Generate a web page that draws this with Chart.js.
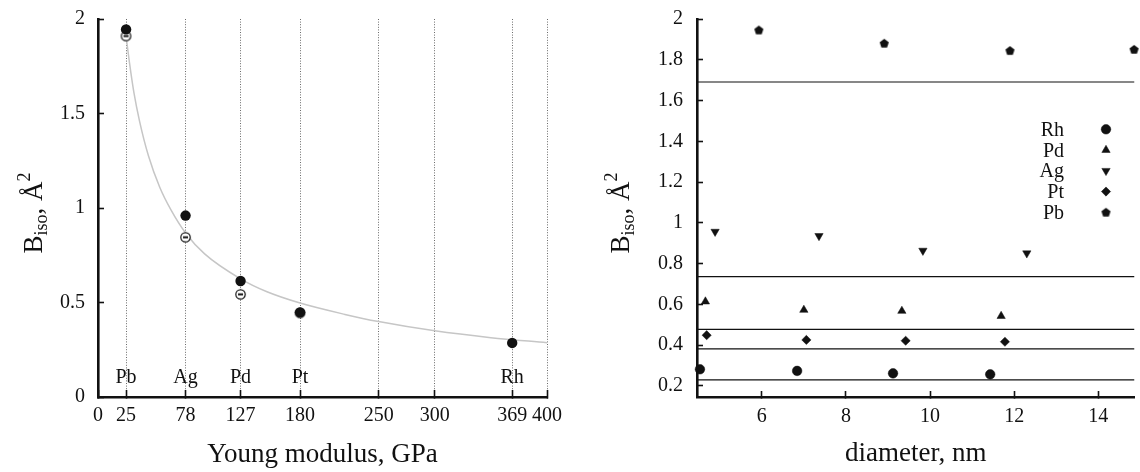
<!DOCTYPE html>
<html><head><meta charset="utf-8">
<script src="https://cdn.jsdelivr.net/npm/chart.js@4.4.0/dist/chart.umd.min.js"></script>
<style>
html,body{margin:0;padding:0;background:#fff;}
#wrap{position:relative;width:1140px;height:472px;overflow:hidden;}
.box{position:absolute;top:0;height:472px;}
#b1{left:0;width:580px;} #b2{left:580px;width:560px;}
canvas{display:block;}
</style></head><body>
<div id="wrap">
<div class="box" id="b1"><canvas id="c1" width="580" height="472"></canvas></div>
<div class="box" id="b2"><canvas id="c2" width="560" height="472"></canvas></div>
</div>
<script>
// ---------- Left panel data ----------
const elements = ['Pb', 'Ag', 'Pd', 'Pt', 'Rh'];
const youngModulus = [25, 78, 127, 180, 369];
const bisoFilled = [1.945, 0.96, 0.614, 0.448, 0.286];
const openE = [25, 78, 127, 180];
const bisoOpen = [1.91, 0.845, 0.543, 0.445];
const fitE = [25, 28, 32, 37, 45, 55, 65, 78, 95, 127, 150, 180, 220, 250, 300, 350, 400];
const fitB = [1.91, 1.77, 1.61, 1.46, 1.275, 1.11, 0.99, 0.868, 0.757, 0.625, 0.558, 0.497, 0.437, 0.399, 0.350, 0.314, 0.287];
const leftXTicks = [0, 25, 78, 127, 180, 250, 300, 369, 400];
const leftYTicks = [0, 0.5, 1, 1.5, 2];

// ---------- Right panel data ----------
const series = ['Rh', 'Pd', 'Ag', 'Pt', 'Pb'];
const rhD = [4.53, 6.84, 9.12, 11.43];  const rhB = [0.282, 0.274, 0.262, 0.257];
const pdD = [4.66, 7.00, 9.33, 11.69];  const pdB = [0.614, 0.573, 0.568, 0.543];
const agD = [4.89, 7.36, 9.83, 12.30];  const agB = [0.957, 0.936, 0.864, 0.851];
const ptD = [4.69, 7.06, 9.42, 11.78];  const ptB = [0.449, 0.426, 0.422, 0.417];
const pbD = [5.93, 8.91, 11.90, 14.85]; const pbB = [1.946, 1.881, 1.845, 1.851];
const bulkB = [0.23, 0.478, 0.736, 0.382, 1.691]; // Rh, Pd, Ag, Pt, Pb
const rightXTicks = [6, 8, 10, 12, 14];
const rightYTicks = [0.2, 0.4, 0.6, 0.8, 1, 1.2, 1.4, 1.6, 1.8, 2];
const dMin = 4.46, dMax = 14.86;

const serif = '"Liberation Serif", "Times New Roman", serif';
const INK = '#111';
Chart.defaults.font.family = serif;
Chart.defaults.color = INK;

function makeOpen() {
  const c = document.createElement('canvas'); c.width = 13; c.height = 13;
  const g = c.getContext('2d');
  g.beginPath(); g.arc(6.5, 6.5, 4.7, 0, 2 * Math.PI);
  g.fillStyle = '#fff'; g.fill(); g.lineWidth = 1.2; g.strokeStyle = INK; g.stroke();
  g.fillStyle = INK; g.fillRect(4, 5.5, 5, 2);
  return c;
}
function makePent() {
  const c = document.createElement('canvas'); c.width = 11; c.height = 11;
  const g = c.getContext('2d');
  g.beginPath();
  for (let i = 0; i < 5; i++) {
    const a = -Math.PI / 2 + i * 2 * Math.PI / 5;
    const x = 5.5 + 4.8 * Math.cos(a), y = 5.9 + 4.8 * Math.sin(a);
    i ? g.lineTo(x, y) : g.moveTo(x, y);
  }
  g.closePath(); g.fillStyle = INK; g.fill();
  return c;
}
const openImg = makeOpen();
const pentImg = makePent();

function drawYTitle(ctx, bx, cy) {
  const parts = [['B', 27, 0], ['iso', 18, 5], [', Å', 27, 0], ['2', 18, -12]];
  ctx.save();
  ctx.fillStyle = INK; ctx.textBaseline = 'alphabetic'; ctx.textAlign = 'left';
  let total = 0;
  const w = parts.map(p => { ctx.font = p[1] + 'px ' + serif; const m = ctx.measureText(p[0]).width; total += m; return m; });
  ctx.translate(bx, cy); ctx.rotate(-Math.PI / 2);
  let x = -total / 2;
  parts.forEach((p, i) => { ctx.font = p[1] + 'px ' + serif; ctx.fillText(p[0], x, p[2]); x += w[i]; });
  ctx.restore();
}

function fixScale(size, horiz) {
  return s => {
    if (horiz) s.height = size; else s.width = size;
    s.paddingTop = 0; s.paddingBottom = 0; s.paddingLeft = 0; s.paddingRight = 0;
  };
}
const tickFont = { size: 20, family: serif };
const titleFont = { size: 27, family: serif, lineHeight: 1 };

// ---------- Left chart ----------
const leftPlugin = {
  id: 'leftExtras',
  afterDraw(chart) {
    const ctx = chart.ctx, xs = chart.scales.x, area = chart.chartArea;
    ctx.save();
    ctx.font = '20px ' + serif; ctx.fillStyle = INK; ctx.textAlign = 'center'; ctx.textBaseline = 'alphabetic';
    elements.forEach((el, i) => ctx.fillText(el, xs.getPixelForValue(youngModulus[i]), area.bottom - 14));
    ctx.restore();
    drawYTitle(ctx, 42, 213);
  }
};
new Chart(document.getElementById('c1'), {
  type: 'scatter',
  data: {
    datasets: [
      { label: 'filled', data: youngModulus.map((x, i) => ({ x, y: bisoFilled[i] })),
        pointStyle: 'circle', pointRadius: 5.2, backgroundColor: INK, borderColor: INK, borderWidth: 0, order: 0, clip: false },
      { label: 'open', data: openE.map((x, i) => ({ x, y: bisoOpen[i] })),
        pointStyle: openImg, pointRadius: 5, order: 1, clip: false },
      { label: 'fit', data: fitE.map((x, i) => ({ x, y: fitB[i] })), showLine: true,
        borderColor: '#c6c6c6', borderWidth: 1.5, pointRadius: 0, cubicInterpolationMode: 'monotone', order: 2 }
    ]
  },
  options: {
    responsive: false, animation: false, devicePixelRatio: 1,
    layout: { padding: { top: 19, right: 33, bottom: 0, left: 0 } },
    plugins: { legend: { display: false }, tooltip: { enabled: false } },
    scales: {
      x: {
        type: 'linear', min: 0, max: 400,
        afterBuildTicks: s => { s.ticks = leftXTicks.map(v => ({ value: v })); },
        afterFit: fixScale(75, true),
        ticks: { font: tickFont, padding: 14, maxRotation: 0, autoSkip: false, callback: v => String(v) },
        grid: { display: true, drawOnChartArea: true, color: '#6a6a6a', lineWidth: 1, drawTicks: true, tickLength: -7, tickColor: INK, tickWidth: 1.6 },
        border: { display: true, color: INK, width: 2.6, dash: [1, 1.6] },
        title: { display: true, text: 'Young modulus, GPa', font: titleFont, padding: { top: 0, bottom: 4 } }
      },
      y: {
        type: 'linear', min: 0, max: 2,
        afterBuildTicks: s => { s.ticks = leftYTicks.map(v => ({ value: v })); },
        afterFit: fixScale(98, false),
        ticks: { font: tickFont, padding: 19, callback: v => String(v) },
        grid: { display: true, drawOnChartArea: false, drawTicks: true, tickLength: -6, tickColor: INK, tickWidth: 1.6 },
        border: { display: true, color: INK, width: 2.6 }
      }
    }
  },
  plugins: [leftPlugin]
});

// ---------- Right chart ----------
const styles = [
  { pointStyle: 'circle', radius: 4.8, rotation: 0 },
  { pointStyle: 'triangle', radius: 4.8, rotation: 0 },
  { pointStyle: 'triangle', radius: 4.8, rotation: 180 },
  { pointStyle: 'rectRot', radius: 4.6, rotation: 0 },
  { pointStyle: pentImg, radius: 5, rotation: 0 }
];
const seriesD = [rhD, pdD, agD, ptD, pbD];
const seriesB = [rhB, pdB, agB, ptB, pbB];
const rightSets = series.map((name, k) => ({
  label: name,
  data: seriesD[k].map((x, i) => ({ x, y: seriesB[k][i] })),
  pointStyle: styles[k].pointStyle, pointRadius: styles[k].radius, pointRotation: styles[k].rotation,
  backgroundColor: INK, borderColor: INK, borderWidth: 0.5, clip: false, order: 0
}));
series.forEach((name, k) => rightSets.push({
  label: name + ' bulk',
  data: [{ x: dMin, y: bulkB[k] }, { x: dMax, y: bulkB[k] }],
  showLine: true, borderColor: INK, borderWidth: 1.2, pointRadius: 0, order: 1
}));

const rightPlugin = {
  id: 'rightExtras',
  afterDraw(chart) {
    const ctx = chart.ctx;
    ctx.save();
    ctx.font = '20px ' + serif; ctx.textAlign = 'right'; ctx.textBaseline = 'alphabetic';
    series.forEach((name, k) => {
      const y = 129.3 + k * 20.75;
      ctx.fillStyle = INK;
      ctx.fillText(name, 484, y + 6.5);
      ctx.strokeStyle = INK; ctx.lineWidth = 0.5;
      Chart.helpers.drawPoint(ctx, { pointStyle: styles[k].pointStyle, radius: styles[k].radius, rotation: styles[k].rotation, borderWidth: 0.5 }, 526, y);
    });
    ctx.restore();
    drawYTitle(ctx, 49, 213);
  }
};
new Chart(document.getElementById('c2'), {
  type: 'scatter',
  data: { datasets: rightSets },
  options: {
    responsive: false, animation: false, devicePixelRatio: 1,
    layout: { padding: { top: 19, right: 0, bottom: 0, left: 0 } },
    plugins: { legend: { display: false }, tooltip: { enabled: false } },
    scales: {
      x: {
        type: 'linear', min: dMin, max: dMax,
        afterBuildTicks: s => { s.ticks = rightXTicks.map(v => ({ value: v })); },
        afterFit: fixScale(75, true),
        ticks: { font: tickFont, padding: 14, maxRotation: 0, autoSkip: false, callback: v => String(v) },
        grid: { display: true, drawOnChartArea: false, drawTicks: true, tickLength: -6, tickColor: INK, tickWidth: 1.6 },
        border: { display: true, color: INK, width: 2.6 },
        title: { display: true, text: 'diameter, nm', font: titleFont, padding: { top: 0, bottom: 5 } }
      },
      y: {
        type: 'linear', min: 0.146, max: 2,
        afterBuildTicks: s => { s.ticks = rightYTicks.map(v => ({ value: v })); },
        afterFit: fixScale(117, false),
        ticks: { font: tickFont, padding: 20, autoSkip: false, callback: v => String(v) },
        grid: { display: true, drawOnChartArea: false, drawTicks: true, tickLength: -6, tickColor: INK, tickWidth: 1.6 },
        border: { display: true, color: INK, width: 2.6 }
      }
    }
  },
  plugins: [rightPlugin]
});
</script>
</body></html>
